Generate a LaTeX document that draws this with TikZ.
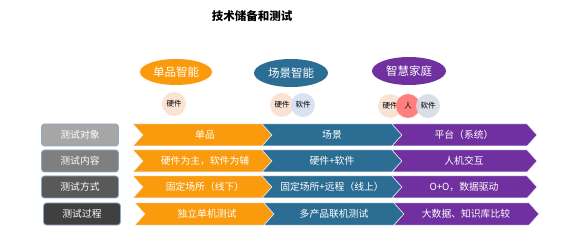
\documentclass[tikz,border=0pt]{standalone}
\usepackage{fontspec}
\setmainfont{Noto Sans CJK SC}
\usetikzlibrary{shapes.geometric,positioning}

\definecolor{orng}{HTML}{F99B0C}
\definecolor{teal}{HTML}{2B6D93}
\definecolor{purp}{HTML}{7030A0}
\definecolor{g1}{HTML}{A6A6A6}
\definecolor{g2}{HTML}{7F7F7F}
\definecolor{g3}{HTML}{595959}
\definecolor{g4}{HTML}{404040}
\definecolor{edge}{HTML}{8FA8C8}
\definecolor{hw}{HTML}{FBE3D4}
\definecolor{sw}{HTML}{D9E2F3}
\definecolor{swg}{HTML}{D6DCE4}
\definecolor{man}{HTML}{FF7F7F}

\begin{document}
\begin{tikzpicture}[x=1pt, y=-1pt,
  stage/.style={ellipse, minimum width=74pt, minimum height=28pt, inner sep=0pt,
    text=white, font=\fontsize{11.5}{11.5}\selectfont},
  part/.style={circle, minimum size=24pt, inner sep=0pt, font=\fontsize{7.5}{7.5}\selectfont},
  lab/.style={draw=edge, line width=0.8pt, rounded corners=3pt, minimum width=77pt,
    minimum height=22pt, inner sep=0pt, text=white, font=\fontsize{9.8}{9.8}\selectfont},
  txt/.style={text=white, inner sep=0pt, font=\fontsize{9.8}{9.8}\selectfont},
  chev/.style={draw=white!85!edge, line width=0.5pt}]
\useasboundingbox (0,0) rectangle (586,232);

\node[font=\fontsize{11.5}{11.5}\selectfont\bfseries] (title) at (252,16) {技术储备和测试};

% stages
\node[stage, fill=orng, minimum width=72pt, minimum height=26pt] (single) at (176,72) {单品智能};
\node[stage, fill=teal] (scene) at (291,73) {场景智能};
\node[stage, fill=purp] (home) at (409,71) {智慧家庭};

\node[part, fill=hw] (hw1) at (174,104) {硬件};
\node[part, fill=hw] (hw2) at (282,105) {硬件};
\node[part, fill=sw] (sw2) at (303,105) {软件};
\node[part, fill=hw] (hw3) at (390,106) {硬件};
\node[part, fill=man] (man3) at (408,106) {人};
\node[part, fill=swg, fill opacity=0.9, text opacity=1] (sw3) at (428,106) {软件};

% rows
\foreach \y/\s/\n/\a/\b/\c/\d in {
  135/0/1/测试对象/单品/场景/平台（系统）,
  161/0/2/测试内容/硬件为主，软件为辅/硬件+软件/人机交互,
  187/0/3/测试方式/固定场所（线下）/固定场所+远程（线上）/O+O，数据驱动,
  214/2/4/测试过程/独立单机测试/多产品联机测试/大数据、知识库比较} {
  \begin{scope}[xshift=\s]
  \node[lab, fill=g\n] (lab\n) at (80,\y) {\a};
  \draw[chev, fill=orng] (133,\y-11) -- (262,\y-11) -- (272,\y) -- (262,\y+11) -- (133,\y+11) -- (143,\y) -- cycle;
  \draw[chev, fill=teal] (262,\y-11) -- (392,\y-11) -- (402,\y) -- (392,\y+11) -- (262,\y+11) -- (272,\y) -- cycle;
  \draw[chev, fill=purp] (392,\y-11) -- (527,\y-11) -- (537,\y) -- (527,\y+11) -- (392,\y+11) -- (402,\y) -- cycle;
  \node[txt] (a\n) at (205,\y) {\b};
  \node[txt] (b\n) at (332,\y) {\c};
  \node[txt] (c\n) at (464,\y) {\d};
  \end{scope}
}
\end{tikzpicture}
\end{document}
